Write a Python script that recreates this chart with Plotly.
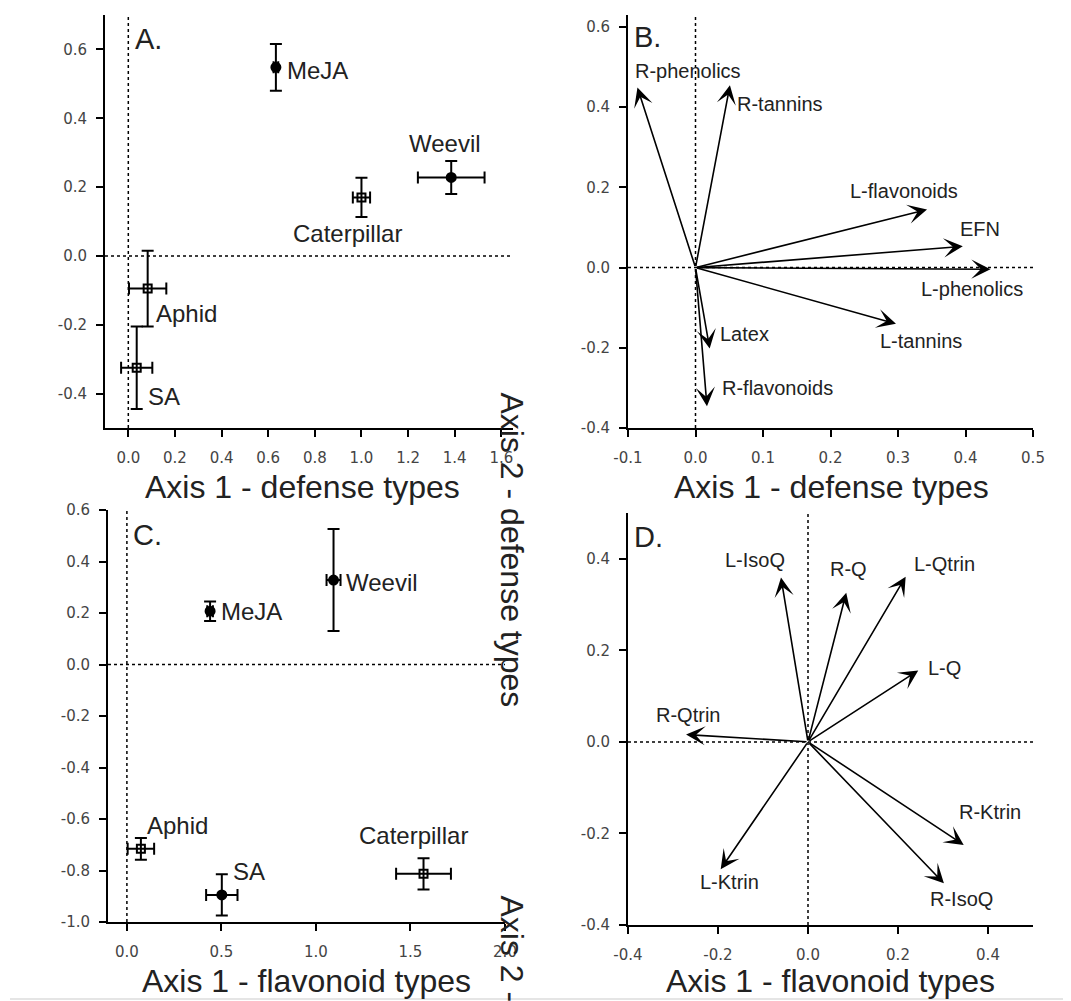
import plotly.graph_objects as go

# ---------------- data ----------------
# Panel A: treatment centroids on defense-type ordination
A_labels = ["MeJA", "Caterpillar", "Weevil", "Aphid", "SA"]
A_x = [0.633, 1.000, 1.385, 0.083, 0.036]
A_y = [0.548, 0.170, 0.228, -0.095, -0.325]
A_xerr = [0.010, 0.037, 0.143, 0.080, 0.067]
A_yerr = [0.068, 0.057, 0.048, 0.110, 0.120]
A_filled = [True, False, True, False, False]

# Panel B: defense-type vectors
B_labels = ["R-phenolics", "R-tannins", "L-flavonoids", "EFN", "L-phenolics",
            "L-tannins", "Latex", "R-flavonoids"]
B_x = [-0.086, 0.051, 0.343, 0.396, 0.437, 0.297, 0.021, 0.017]
B_y = [0.449, 0.455, 0.145, 0.053, -0.004, -0.140, -0.202, -0.346]

# Panel C: treatment centroids on flavonoid-type ordination
C_labels = ["MeJA", "Weevil", "Aphid", "SA", "Caterpillar"]
C_x = [0.440, 1.093, 0.074, 0.502, 1.569]
C_y = [0.207, 0.328, -0.716, -0.895, -0.813]
C_xerr = [0.015, 0.037, 0.070, 0.083, 0.145]
C_yerr = [0.038, 0.198, 0.042, 0.080, 0.061]
C_filled = [True, True, False, True, False]

# Panel D: flavonoid-type vectors
D_labels = ["L-IsoQ", "R-Q", "L-Qtrin", "L-Q", "R-Qtrin", "R-Ktrin", "R-IsoQ", "L-Ktrin"]
D_x = [-0.060, 0.085, 0.217, 0.245, -0.271, 0.346, 0.302, -0.194]
D_y = [0.359, 0.326, 0.361, 0.156, 0.016, -0.225, -0.309, -0.278]

# tick labels
A_xticks = [0.0, 0.2, 0.4, 0.6, 0.8, 1.0, 1.2, 1.4, 1.6]
A_xtext = ["0.0", "0.2", "0.4", "0.6", "0.8", "1.0", "1.2", "1.4", "1.6"]
A_yticks = [-0.4, -0.2, 0.0, 0.2, 0.4, 0.6]
A_ytext = ["-0.4", "-0.2", "0.0", "0.2", "0.4", "0.6"]
B_xticks = [-0.1, 0.0, 0.1, 0.2, 0.3, 0.4, 0.5]
B_xtext = ["-0.1", "0.0", "0.1", "0.2", "0.3", "0.4", "0.5"]
B_yticks = [-0.4, -0.2, 0.0, 0.2, 0.4, 0.6]
B_ytext = ["-0.4", "-0.2", "0.0", "0.2", "0.4", "0.6"]
C_xticks = [0.0, 0.5, 1.0, 1.5, 2.0]
C_xtext = ["0.0", "0.5", "1.0", "1.5", "2.0"]
C_yticks = [-1.0, -0.8, -0.6, -0.4, -0.2, 0.0, 0.2, 0.4, 0.6]
C_ytext = ["-1.0", "-0.8", "-0.6", "-0.4", "-0.2", "0.0", "0.2", "0.4", "0.6"]
D_xticks = [-0.4, -0.2, 0.0, 0.2, 0.4]
D_xtext = ["-0.4", "-0.2", "0.0", "0.2", "0.4"]
D_yticks = [-0.4, -0.2, 0.0, 0.2, 0.4]
D_ytext = ["-0.4", "-0.2", "0.0", "0.2", "0.4"]

# ---------------- layout helpers ----------------
W, H = 1071, 1001
OFF = 8  # page offset of the figure (body margin)


def px(xp):
    return (xp - OFF) / W


def py(yp):
    return 1 - (yp - OFF) / H


LABEL_FONT = "Liberation Sans, Arial, sans-serif"
TICK_FONT = "DejaVu Sans, sans-serif"

fig = go.Figure()

# label offsets (pixels) relative to point / arrow tip: (xanchor, xshift, yshift)
A_lab_pos = {"MeJA": ("left", 9, -3), "Caterpillar": ("center", -14, -36),
             "Weevil": ("center", -6, 34), "Aphid": ("left", 6, -25),
             "SA": ("left", 9, -29)}
C_lab_pos = {"MeJA": ("left", 9, 0), "Weevil": ("left", 10, -2),
             "Aphid": ("left", 4, 23), "SA": ("left", 9, 23),
             "Caterpillar": ("center", -10, 38)}
B_lab_pos = {"R-phenolics": ("center", 51, 17), "R-tannins": ("left", 5, -19),
             "L-flavonoids": ("center", -23, 18), "EFN": ("center", 17, 17),
             "L-phenolics": ("center", -18, -20), "L-tannins": ("center", 25, -17),
             "Latex": ("left", 8, 15), "R-flavonoids": ("left", 13, 18)}
D_lab_pos = {"L-IsoQ": ("center", -26, 18), "R-Q": ("center", 2, 24),
             "L-Qtrin": ("center", 39, 13), "L-Q": ("left", 8, 2),
             "R-Qtrin": ("center", 2, 20), "R-Ktrin": ("center", 26, 33),
             "R-IsoQ": ("center", 18, -16), "L-Ktrin": ("center", 9, -13)}

annotations = []
shapes = []


def add_points(labels, xs, ys, xe, ye, filled, xa, ya, lab_pos):
    for i, lab in enumerate(labels):
        fig.add_trace(go.Scatter(
            x=[xs[i]], y=[ys[i]], mode="markers",
            xaxis=xa, yaxis=ya, showlegend=False,
            marker=dict(symbol="circle" if filled[i] else "square-open",
                        size=9 if filled[i] else 8, color="black",
                        line=dict(color="black", width=2)),
            error_x=dict(type="data", array=[xe[i]], color="black", thickness=2, width=6),
            error_y=dict(type="data", array=[ye[i]], color="black", thickness=2, width=6),
        ))
        anc, dx, dy = lab_pos[lab]
        annotations.append(dict(
            x=xs[i], y=ys[i], xref=xa, yref=ya, text=lab, showarrow=False,
            xanchor=anc, yanchor="middle", xshift=dx, yshift=dy,
            font=dict(family=LABEL_FONT, size=24, color="#222222")))


def add_vectors(labels, xs, ys, xa, ya, lab_pos):
    for i, lab in enumerate(labels):
        annotations.append(dict(
            x=xs[i], y=ys[i], ax=0, ay=0, xref=xa, yref=ya,
            axref=xa, ayref=ya, text="", showarrow=True,
            arrowhead=3, arrowsize=2.0, arrowwidth=1.6, arrowcolor="black"))
        anc, dx, dy = lab_pos[lab]
        annotations.append(dict(
            x=xs[i], y=ys[i], xref=xa, yref=ya, text=lab, showarrow=False,
            xanchor=anc, yanchor="middle", xshift=dx, yshift=dy,
            font=dict(family=LABEL_FONT, size=20, color="#222222")))


def zero_lines(xa, ya, xr, yr):
    shapes.append(dict(type="line", xref=xa, yref=ya, x0=0, x1=0, y0=yr[0], y1=yr[1],
                       line=dict(color="black", width=1.5, dash="dot"), layer="below"))
    shapes.append(dict(type="line", xref=xa, yref=ya, x0=xr[0], x1=xr[1], y0=0, y1=0,
                       line=dict(color="black", width=1.5, dash="dot"), layer="below"))


A_xr, A_yr = [-0.1, 1.65], [-0.5, 0.7]
B_xr, B_yr = [-0.1, 0.5], [-0.4, 0.63]
C_xr, C_yr = [-0.1, 2.0], [-1.0, 0.6]
D_xr, D_yr = [-0.4, 0.5], [-0.4, 0.5]

zero_lines("x", "y", A_xr, A_yr)
zero_lines("x2", "y2", B_xr, B_yr)
zero_lines("x3", "y3", C_xr, C_yr)
zero_lines("x4", "y4", D_xr, D_yr)

add_points(A_labels, A_x, A_y, A_xerr, A_yerr, A_filled, "x", "y", A_lab_pos)
add_vectors(B_labels, B_x, B_y, "x2", "y2", B_lab_pos)
add_points(C_labels, C_x, C_y, C_xerr, C_yerr, C_filled, "x3", "y3", C_lab_pos)
add_vectors(D_labels, D_x, D_y, "x4", "y4", D_lab_pos)

# panel letters
for letter, xl, yl in [("A.", 133, 39), ("B.", 632, 37), ("C.", 131, 535), ("D.", 632, 537)]:
    annotations.append(dict(x=px(xl), y=py(yl), xref="paper", yref="paper", text=letter,
                            showarrow=False, xanchor="left", yanchor="middle",
                            font=dict(family=LABEL_FONT, size=29, color="#222222")))

# axis titles
for t, xc, yc in [("Axis 1 - defense types", 302, 487), ("Axis 1 - defense types", 831, 487),
                  ("Axis 1 - flavonoid types", 306, 981), ("Axis 1 - flavonoid types", 830, 981)]:
    annotations.append(dict(x=px(xc), y=py(yc), xref="paper", yref="paper", text=t,
                            showarrow=False, xanchor="center", yanchor="middle",
                            font=dict(family=LABEL_FONT, size=32, color="#222222")))

for t, xc, ytop in [("Axis 2 - defense types", 512, 390), ("Axis 2 - flavonoid types", 512, 893)]:
    annotations.append(dict(x=px(xc), y=py(ytop), xref="paper", yref="paper", text=t,
                            showarrow=False, xanchor="center", yanchor="top", textangle=90,
                            font=dict(family=LABEL_FONT, size=32, color="#222222")))

# faint rule at the very bottom
shapes.append(dict(type="line", xref="paper", yref="paper", x0=px(10), x1=1,
                   y0=py(999), y1=py(999), line=dict(color="#dddddd", width=1.5)))


def axis(domain, rng, tv, tt, standoff):
    return dict(domain=domain, range=rng, tickvals=tv, ticktext=tt, automargin=False,
                showline=True, linecolor="black", linewidth=2, mirror=False,
                ticks="outside", ticklen=7, tickwidth=2, tickcolor="black",
                showgrid=False, zeroline=False, ticklabelstandoff=standoff,
                tickfont=dict(family=TICK_FONT, size=15, color="#444444"))


fig.update_layout(
    width=W, height=H, margin=dict(l=0, r=0, t=0, b=0, pad=0, autoexpand=False),
    paper_bgcolor="white", plot_bgcolor="white", showlegend=False,
    xaxis=dict(**axis([px(105), px(513)], A_xr, A_xticks, A_xtext, 8), anchor="y"),
    yaxis=dict(**axis([py(428), py(15)], A_yr, A_yticks, A_ytext, 6), anchor="x"),
    xaxis2=dict(**axis([px(628), px(1033)], B_xr, B_xticks, B_xtext, 8), anchor="y2"),
    yaxis2=dict(**axis([py(428), py(15)], B_yr, B_yticks, B_ytext, 6), anchor="x2"),
    xaxis3=dict(**axis([px(108), px(505)], C_xr, C_xticks, C_xtext, 8), anchor="y3"),
    yaxis3=dict(**axis([py(922), py(510)], C_yr, C_yticks, C_ytext, 6), anchor="x3"),
    xaxis4=dict(**axis([px(628), px(1033)], D_xr, D_xticks, D_xtext, 8), anchor="y4"),
    yaxis4=dict(**axis([py(925), py(513)], D_yr, D_yticks, D_ytext, 6), anchor="x4"),
    annotations=annotations, shapes=shapes,
)

fig.write_html("out.html")
